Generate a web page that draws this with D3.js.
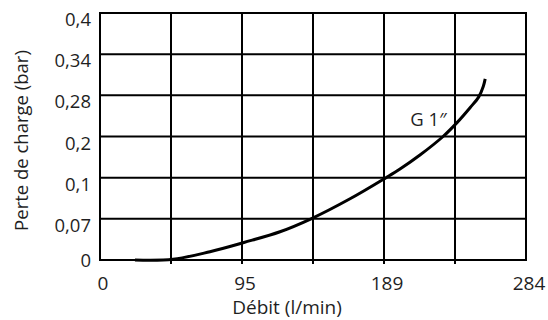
<!DOCTYPE html>
<html>
<head>
<meta charset="utf-8">
<script src="https://cdn.jsdelivr.net/npm/d3@7"></script>
<style>
  html, body { margin: 0; padding: 0; background: #fff; }
  svg text { font-family: "Open Sans", "Noto Sans", sans-serif; fill: #1f1f1f; }
</style>
</head>
<body>
<svg id="chart" width="548" height="320"></svg>
<script>
// Pressure-loss curve for the G 1" fitting
const flowRate = [23.3, 48.7, 73.3, 96, 120, 140.7, 166.7, 190.7, 200, 213.3, 228.7, 238, 246.7, 252.5, 255.5, 256.8];
const pressureLoss = [0, 0.0012, 0.0141, 0.0298, 0.048, 0.07, 0.0846, 0.1, 0.121, 0.155, 0.2, 0.227, 0.256, 0.277, 0.293, 0.304];

// Axis graduations
const xGrid = [0, 47.33, 94.67, 142, 189.33, 236.67, 284];
const xTickValues = [0, 94.67, 189.33, 284];
const xTickLabels = ["0", "95", "189", "284"];
const yTickValues = [0, 0.07, 0.1, 0.2, 0.28, 0.34, 0.4];
const yTickLabels = ["0", "0,07", "0,1", "0,2", "0,28", "0,34", "0,4"];

const seriesName = "G 1\u2033";
const xTitle = "Débit (l/min)";
const yTitle = "Perte de charge (bar)";

const svg = d3.select("#chart");
const margin = { left: 100, right: 22, top: 13, bottom: 60 };
const W = 548, H = 320;
const x0 = margin.left, x1 = W - margin.right;
const y0 = H - margin.bottom, y1 = margin.top;

const x = d3.scaleLinear().domain([0, 284]).range([x0, x1]);
// graduations are evenly spaced although their values are not
const y = d3.scaleLinear()
  .domain(yTickValues)
  .range(yTickValues.map((d, i) => y0 + (y1 - y0) * i / (yTickValues.length - 1)));

const g = svg.append("g");

// vertical grid lines (inner ones poke below the frame like ticks)
g.selectAll("line.vx").data(xGrid).join("line")
  .attr("x1", d => x(d)).attr("x2", d => x(d))
  .attr("y1", y1)
  .attr("y2", (d, i) => (i === 0 || i === xGrid.length - 1) ? y0 : y0 + 4)
  .attr("stroke", "#000").attr("stroke-width", 2);

// horizontal grid lines
g.selectAll("line.hy").data(yTickValues).join("line")
  .attr("x1", x0 - 1).attr("x2", x1 + 1)
  .attr("y1", d => y(d)).attr("y2", d => y(d))
  .attr("stroke", "#000").attr("stroke-width", 2);

// y labels
g.selectAll("text.yl").data(yTickValues).join("text")
  .attr("x", x0 - 9)
  .attr("y", d => y(d) + (d === 0 ? 7 : 13))
  .attr("text-anchor", "end")
  .attr("font-size", 18.5)
  .text((d, i) => yTickLabels[i]);

// x labels
g.selectAll("text.xl").data(xTickValues).join("text")
  .attr("x", d => x(d) + 3)
  .attr("y", y0 + 30)
  .attr("text-anchor", "middle")
  .attr("font-size", 19)
  .text((d, i) => xTickLabels[i]);

// axis titles
g.append("text")
  .attr("x", 287).attr("y", y0 + 54)
  .attr("text-anchor", "middle").attr("font-size", 19)
  .text(xTitle);
g.append("text")
  .attr("transform", `translate(28,${(y0 + y1) / 2 + 4}) rotate(-90)`)
  .attr("text-anchor", "middle").attr("font-size", 18.5)
  .text(yTitle);

// curve
const line = d3.line()
  .x((d, i) => x(flowRate[i]))
  .y(d => y(d))
  .curve(d3.curveCatmullRom);
g.append("path")
  .datum(pressureLoss)
  .attr("d", line)
  .attr("fill", "none")
  .attr("stroke", "#000")
  .attr("stroke-width", 3);

// series label
g.append("text")
  .attr("x", x(219)).attr("y", y(0.22))
  .attr("text-anchor", "middle")
  .attr("font-size", 18.5)
  .text(seriesName);
</script>
</body>
</html>
